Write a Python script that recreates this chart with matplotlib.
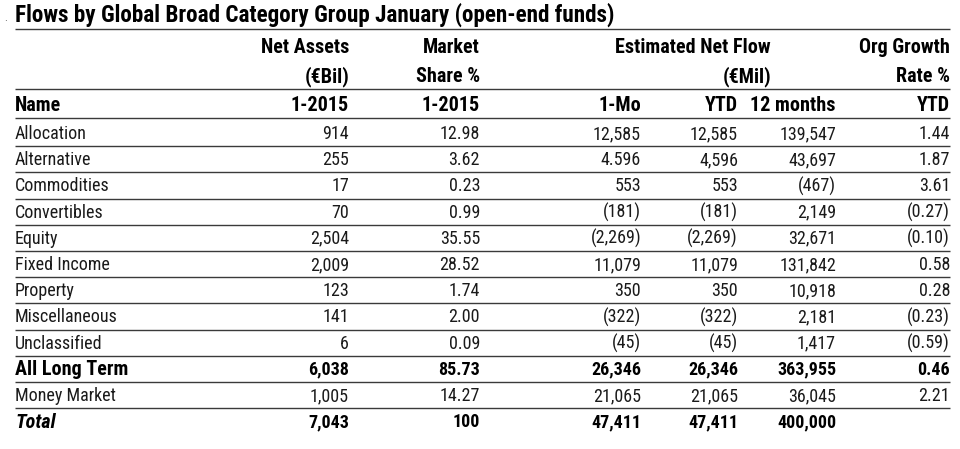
import matplotlib
matplotlib.use("Agg")
import matplotlib.pyplot as plt

FONT = ["Roboto Condensed", "DejaVu Sans"]
plt.rcParams["font.family"] = FONT

TITLE = "Flows by Global Broad Category Group January (open-end funds)"

names = [
    "Allocation", "Alternative", "Commodities", "Convertibles", "Equity",
    "Fixed Income", "Property", "Miscellaneous", "Unclassified",
    "All Long Term", "Money Market", "Total",
]
net_assets = ["914", "255", "17", "70", "2,504", "2,009", "123", "141", "6",
              "6,038", "1,005", "7,043"]
market_share = ["12.98", "3.62", "0.23", "0.99", "35.55", "28.52", "1.74",
                "2.00", "0.09", "85.73", "14.27", "100"]
flow_1mo = ["12,585", "4.596", "553", "(181)", "(2,269)", "11,079", "350",
            "(322)", "(45)", "26,346", "21,065", "47,411"]
flow_ytd = ["12,585", "4,596", "553", "(181)", "(2,269)", "11,079", "350",
            "(322)", "(45)", "26,346", "21,065", "47,411"]
flow_12m = ["139,547", "43,697", "(467)", "2,149", "32,671", "131,842",
            "10,918", "2,181", "1,417", "363,955", "36,045", "400,000"]
org_growth = ["1.44", "1.87", "3.61", "(0.27)", "(0.10)", "0.58", "0.28",
              "(0.23)", "(0.59)", "0.46", "2.21", ""]

header_top = ["Net Assets", "Market", "", "Estimated Net Flow", "", "Org Growth"]
header_mid = ["(€Bil)", "Share %", "", "", "(€Mil)", "Rate %"]
header_low = ["1-2015", "1-2015", "1-Mo", "YTD", "12 months", "YTD"]

bold_rows = ["All Long Term", "Total"]
italic_rows = ["Total"]

fig = plt.figure(figsize=(9.6, 4.49), dpi=100)
ax = fig.add_axes([0, 0, 1, 1])
ax.set_xlim(0, 960)
ax.set_ylim(449, 0)
ax.axis("off")

fs = 13
fs_head = 14.5
fs_title = 16.7
txt = "#1a1a1a"
line_c = "#3a3a3a"
col_right = [349, 480, 641, 738, 836, 950]
left = 15
right = 950

ax.text(left, 15, TITLE, fontsize=fs_title, fontweight="bold", ha="left", va="center", color="black")
ax.text(4, 18, ".", fontsize=8, ha="left", va="center", color="#555555")

# header rows
for x, t in zip(col_right, header_top):
    if t:
        rx = 771 if t == "Estimated Net Flow" else x
        ax.text(rx, 47.5, t, fontsize=fs_head, fontweight="bold", ha="right", va="center", color="black")
for x, t in zip(col_right, header_mid):
    if t:
        rx = 771 if t == "(€Mil)" else x
        ax.text(rx, 77, t, fontsize=fs_head, fontweight="bold", ha="right", va="center", color="black")
ax.text(left, 105.5, "Name", fontsize=fs_head, fontweight="bold", ha="left", va="center", color="black")
for x, t in zip(col_right, header_low):
    ax.text(x, 105.5, t, fontsize=fs_head, fontweight="bold", ha="right", va="center", color="black")

row_h = 26.2
first_y = 133
columns = [net_assets, market_share, flow_1mo, flow_ytd, flow_12m, org_growth]
for i, name in enumerate(names):
    y = first_y + i * row_h
    is_bold = name in bold_rows
    weight = "bold" if is_bold else "normal"
    style = "italic" if name in italic_rows else "normal"
    color = "black" if is_bold else txt
    ax.text(left, y + 1, name, fontsize=fs_head if is_bold else fs, fontweight=weight,
            fontstyle=style, ha="left", va="center", color=color)
    for x, col in zip(col_right, columns):
        ax.text(x, y + 1, col[i], fontsize=fs, fontweight=weight,
                ha="right", va="center", color=color)

# rules
line_ys = [29, 89, 117.5] + [first_y + (i + 0.5) * row_h for i in range(len(names) - 1)]
ax.hlines(line_ys, left, right, colors=line_c, linewidth=1.0)

fig.savefig("out.png", dpi=100)
